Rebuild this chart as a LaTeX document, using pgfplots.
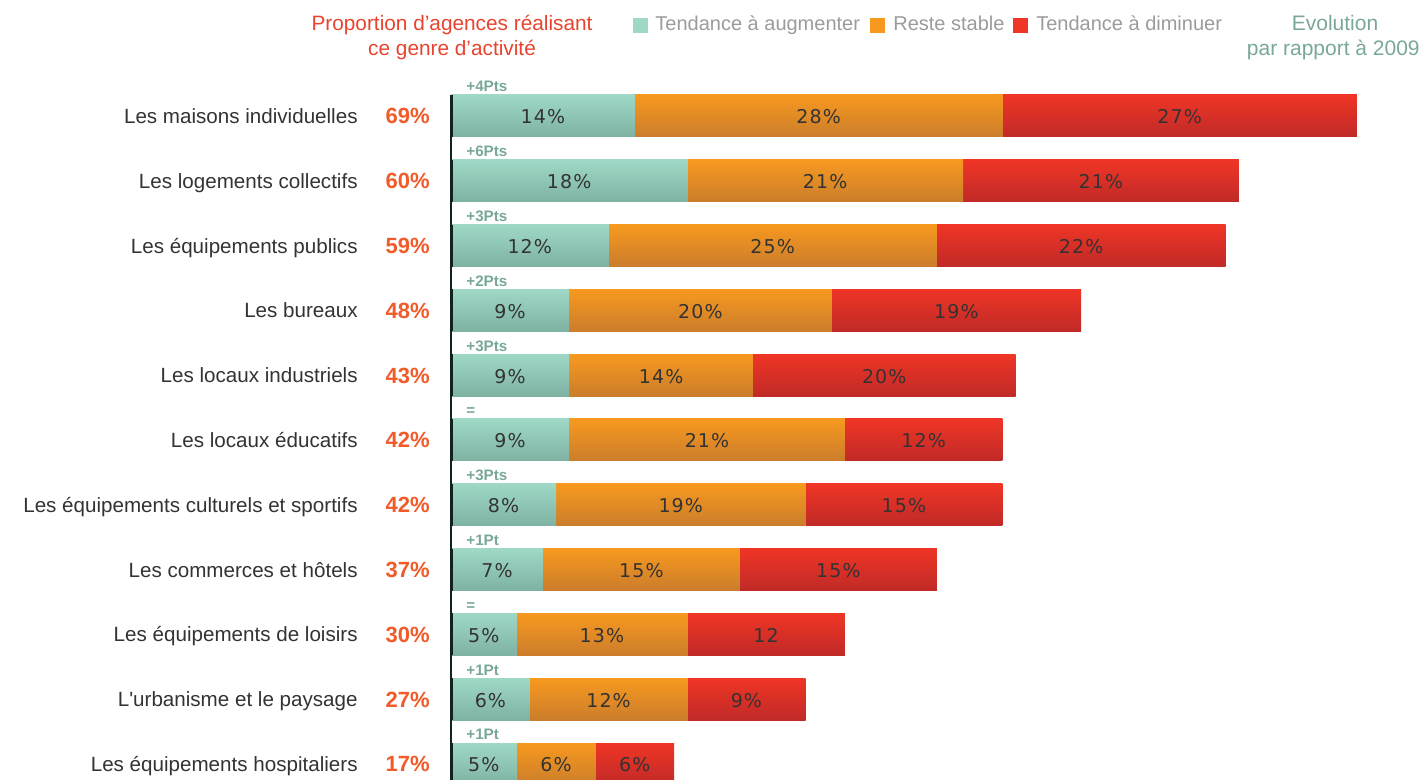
\documentclass[border=0pt]{standalone}
\usepackage{pgfplots}
\pgfplotsset{compat=1.18}
\usepackage{fontspec}
\setmainfont{Liberation Sans}
\newfontfamily\dejavu{DejaVu Sans}[LetterSpace=6]
\newfontfamily\rawls{Liberation Sans}[Ligatures=TeXOff]
\definecolor{tealT}{HTML}{9FD8C6}
\definecolor{tealB}{HTML}{7EB2A3}
\definecolor{orT}{HTML}{F7991F}
\definecolor{orB}{HTML}{CB7D2C}
\definecolor{rdT}{HTML}{EF3526}
\definecolor{rdB}{HTML}{C02A27}
\definecolor{pctc}{HTML}{F15A29}
\definecolor{hdr}{HTML}{E8432E}
\definecolor{evo}{HTML}{7AA898}
\definecolor{leg}{HTML}{9B9B9B}
\definecolor{txt}{HTML}{333333}
\definecolor{darkline}{HTML}{10231F}
\pgfplotsset{frame/.style={scale only axis, width=713pt, height=390pt,
  xmin=-34.35, xmax=74.26, ymin=-1.790, ymax=10.247,
  y dir=reverse, hide axis, clip=false}}
% one stacked bar per axis, so that each bar gets its own vertical shading
\newcommand{\barrow}[4]{%
\begin{axis}[frame, xbar stacked, bar width=0.648]
\addplot[draw=none, top color=tealT, bottom color=tealB] coordinates {(#2,#1)};
\addplot[draw=none, top color=orT, bottom color=orB] coordinates {(#3,#1)};
\addplot[draw=none, top color=rdT, bottom color=rdB] coordinates {(#4,#1)};
\end{axis}}
\newcommand{\cat}[3]{%
  \node[anchor=base east, text=txt, font=\fontsize{10.3}{12}\selectfont, yshift=-3.75pt, inner sep=0pt] at (axis cs:-7.08,#1) {#2};%
  \node[anchor=base east, text=pctc, font=\fontsize{11}{13}\selectfont\bfseries, yshift=-4pt, inner sep=0pt] at (axis cs:-1.60,#1) {#3};}
\newcommand{\evl}[2]{%
  \node[anchor=base west, text=evo, font=\fontsize{7.6}{9}\selectfont\bfseries, yshift=12pt, inner sep=0pt] at (axis cs:1.14,#1) {#2};}
\newcommand{\bl}[3]{%
  \node[anchor=base, text=txt, font=\dejavu\fontsize{9.5}{11}\selectfont, yshift=-4pt, inner sep=0pt] at (axis cs:#1,#2) {#3};}
\begin{document}
\begin{tikzpicture}
% rows: index, tendance a augmenter, reste stable, tendance a diminuer
\barrow{0}{14}{28}{27}
\barrow{1}{18}{21}{21}
\barrow{2}{12}{25}{22}
\barrow{3}{9}{20}{19}
\barrow{4}{9}{14}{20}
\barrow{5}{9}{21}{12}
\barrow{6}{8}{19}{15}
\barrow{7}{7}{15}{15}
\barrow{8}{5}{13}{12}
\barrow{9}{6}{12}{9}
\barrow{10}{5}{6}{6}
\begin{axis}[frame]
\coordinate (bbA) at (rel axis cs:0,0);
\coordinate (bbB) at (rel axis cs:1,1);
\draw[darkline, line width=0.6pt] (axis cs:0,-0.324) -- (axis cs:0,10.247);
\pgfplotsinvokeforeach{0,1,2,3,4,5,6,7,8,9,10}{
  \draw[darkline, line width=1.5pt] (axis cs:0.05,#1-0.324) -- (axis cs:0.05,#1+0.324);}

\cat{0}{Les maisons individuelles}{69\%}
\cat{1}{Les logements collectifs}{60\%}
\cat{2}{Les équipements publics}{59\%}
\cat{3}{Les bureaux}{48\%}
\cat{4}{Les locaux industriels}{43\%}
\cat{5}{Les locaux éducatifs}{42\%}
\cat{6}{Les équipements culturels et sportifs}{42\%}
\cat{7}{Les commerces et hôtels}{37\%}
\cat{8}{Les équipements de loisirs}{30\%}
\cat{9}{\rawls L'urbanisme et le paysage}{27\%}
\cat{10}{Les équipements hospitaliers}{17\%}

\evl{0}{+4Pts}
\evl{1}{+6Pts}
\evl{2}{+3Pts}
\evl{3}{+2Pts}
\evl{4}{+3Pts}
\evl{5}{=}
\evl{6}{+3Pts}
\evl{7}{+1Pt}
\evl{8}{=}
\evl{9}{+1Pt}
\evl{10}{+1Pt}

\bl{7}{0}{14\%}\bl{28}{0}{28\%}\bl{55.5}{0}{27\%}
\bl{9}{1}{18\%}\bl{28.5}{1}{21\%}\bl{49.5}{1}{21\%}
\bl{6}{2}{12\%}\bl{24.5}{2}{25\%}\bl{48}{2}{22\%}
\bl{4.5}{3}{9\%}\bl{19}{3}{20\%}\bl{38.5}{3}{19\%}
\bl{4.5}{4}{9\%}\bl{16}{4}{14\%}\bl{33}{4}{20\%}
\bl{4.5}{5}{9\%}\bl{19.5}{5}{21\%}\bl{36}{5}{12\%}
\bl{4}{6}{8\%}\bl{17.5}{6}{19\%}\bl{34.5}{6}{15\%}
\bl{3.5}{7}{7\%}\bl{14.5}{7}{15\%}\bl{29.5}{7}{15\%}
\bl{2.5}{8}{5\%}\bl{11.5}{8}{13\%}\bl{24}{8}{12}
\bl{3}{9}{6\%}\bl{12}{9}{12\%}\bl{22.5}{9}{9\%}
\bl{2.5}{10}{5\%}\bl{8}{10}{6\%}\bl{14}{10}{6\%}

% header
\node[anchor=base, text=hdr, font=\fontsize{10.4}{12}\selectfont, inner sep=0pt] at (axis cs:0.08,-1.312) {Proportion d’agences réalisant};
\node[anchor=base, text=hdr, font=\fontsize{10.4}{12}\selectfont, inner sep=0pt] at (axis cs:0.08,-0.926) {ce genre d’activité};
% legend
\node[fill=tealT, minimum size=7.5pt, inner sep=0pt] at (axis cs:14.43,-1.404) {};
\node[fill=orT, minimum size=7.5pt, inner sep=0pt] at (axis cs:32.48,-1.404) {};
\node[fill=rdT, minimum size=7.5pt, inner sep=0pt] at (axis cs:43.41,-1.404) {};
\node[anchor=base west, text=leg, font=\fontsize{10}{12}\selectfont, inner sep=0pt] at (axis cs:15.54,-1.312) {Tendance à augmenter};
\node[anchor=base west, text=leg, font=\fontsize{10}{12}\selectfont, inner sep=0pt] at (axis cs:33.66,-1.312) {Reste stable};
\node[anchor=base west, text=leg, font=\fontsize{10}{12}\selectfont, inner sep=0pt] at (axis cs:44.55,-1.312) {Tendance à diminuer};
% evolution header
\node[anchor=base, text=evo, font=\fontsize{10.5}{12}\selectfont, inner sep=0pt] at (axis cs:67.33,-1.312) {Evolution};
\node[anchor=base, text=evo, font=\fontsize{10.5}{12}\selectfont, inner sep=0pt] at (axis cs:67.2,-0.926) {par rapport à 2009};
\end{axis}
\pgfresetboundingbox
\path[use as bounding box] (bbA) rectangle (bbB);
\end{tikzpicture}
\end{document}
